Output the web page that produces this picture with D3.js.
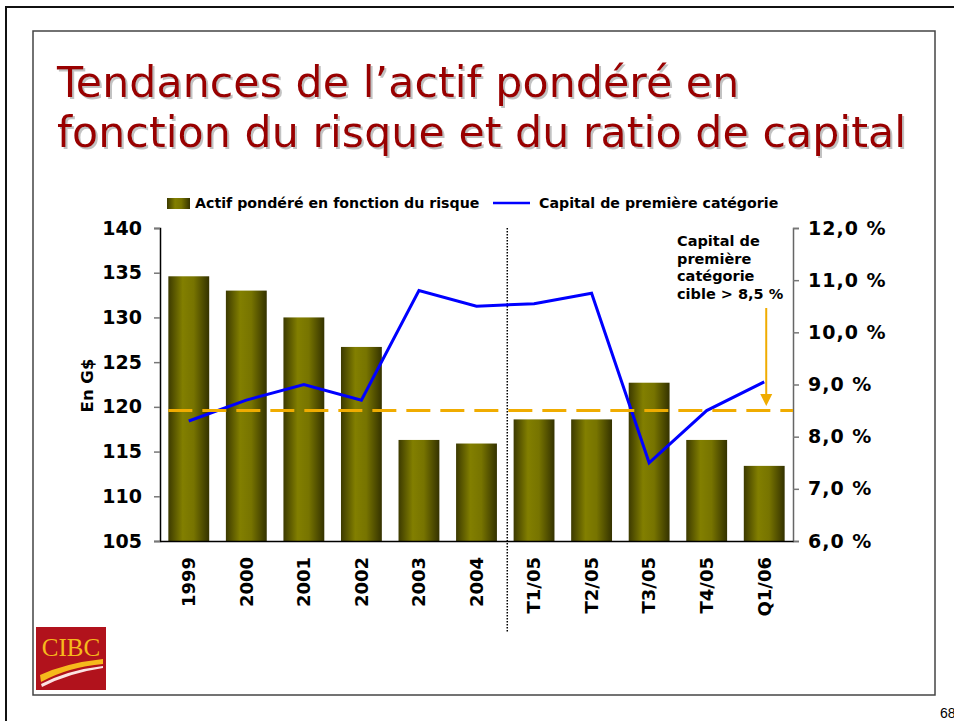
<!DOCTYPE html>
<html>
<head>
<meta charset="utf-8">
<script src="https://cdn.jsdelivr.net/npm/d3@7"></script>
<style>
  body { margin: 0; background: #fff; }
  svg { display: block; }
</style>
</head>
<body>
<div id="chart-area"></div>
<script>
// data
const categories = ["1999", "2000", "2001", "2002", "2003", "2004", "T1/05", "T2/05", "T3/05", "T4/05", "Q1/06"]
const rwaValues = [134.6, 133.0, 130.0, 126.7, 116.3, 115.9, 118.6, 118.6, 122.7, 116.3, 113.4]
const tier1Ratio = [8.3, 8.7, 9.0, 8.7, 10.8, 10.5, 10.55, 10.75, 7.5, 8.5, 9.05]
const leftTicks = [105, 110, 115, 120, 125, 130, 135, 140]
const rightTicks = [6, 7, 8, 9, 10, 11, 12]
const targetRatio = 8.5
const titleLines = ["Tendances de l\u2019actif pondéré en", "fonction du risque et du ratio de capital"]
const noteLines = ["Capital de", "première", "catégorie", "cible > 8,5 %"]

const W = 954, H = 721
const PLOT = { LEFT: 160, RIGHT: 793, TOP: 228, BOTTOM: 541 }
const FONT = "'DejaVu Sans', Verdana, sans-serif"

const svg = d3.select("#chart-area").append("svg")
  .attr("width", W)
  .attr("height", H)

const defs = svg.append("defs")
const grad = defs.append("linearGradient")
  .attr("id", "barGrad")
  .attr("x1", "0%").attr("x2", "100%").attr("y1", "0%").attr("y2", "0%")
grad.append("stop").attr("offset", "0%").attr("stop-color", "#3c3a00")
grad.append("stop").attr("offset", "35%").attr("stop-color", "#827f00")
grad.append("stop").attr("offset", "62%").attr("stop-color", "#777400")
grad.append("stop").attr("offset", "100%").attr("stop-color", "#343200")

const shadow = defs.append("filter").attr("id", "titleShadow")
  .attr("x", "-5%").attr("y", "-20%").attr("width", "110%").attr("height", "140%")
shadow.append("feDropShadow")
  .attr("dx", 2).attr("dy", 2).attr("stdDeviation", 0.6)
  .attr("flood-color", "#999").attr("flood-opacity", 0.6)

// page frame
svg.append("line").attr("x1", 5).attr("x2", W).attr("y1", 7).attr("y2", 7)
  .attr("stroke", "#111").attr("stroke-width", 2)
svg.append("line").attr("x1", 6).attr("x2", 6).attr("y1", 7).attr("y2", H)
  .attr("stroke", "#111").attr("stroke-width", 2)
svg.append("rect")
  .attr("x", 33).attr("y", 31).attr("width", 902).attr("height", 664)
  .attr("fill", "none").attr("stroke", "#444").attr("stroke-width", 1.5)
svg.append("text")
  .attr("x", 940).attr("y", 718)
  .attr("font-family", "'Liberation Sans', Arial, sans-serif").attr("font-size", "14px")
  .text("68")

// Title
const title = svg.append("g").attr("filter", "url(#titleShadow)")
titleLines.forEach((line, i) => {
  title.append("text")
    .attr("x", 57).attr("y", 97 + i * 50)
    .attr("font-family", FONT).attr("font-size", "42.8px")
    .attr("fill", "#990000")
    .text(line)
})

// Scales
const x = d3.scaleBand()
  .domain(categories)
  .range([PLOT.LEFT, PLOT.RIGHT])
  .paddingInner(0.29)
  .paddingOuter(0.145)
const yLeft = d3.scaleLinear()
  .domain([105, 140])
  .range([PLOT.BOTTOM, PLOT.TOP])
const yRight = d3.scaleLinear()
  .domain([6, 12])
  .range([PLOT.BOTTOM, PLOT.TOP])
const pctFormat = d => d3.format(".1f")(d).replace(".", ",") + " %"

// Bars
svg.append("g").selectAll("rect")
  .data(rwaValues)
  .enter().append("rect")
    .attr("x", (d, i) => x(categories[i]))
    .attr("y", d => yLeft(d))
    .attr("width", x.bandwidth())
    .attr("height", d => yLeft(105) - yLeft(d))
    .attr("fill", "url(#barGrad)")

// Axes
const leftAxis = svg.append("g")
  .attr("transform", `translate(${PLOT.LEFT}, 0)`)
  .call(d3.axisLeft(yLeft).tickValues(leftTicks).tickSize(6).tickPadding(12))
leftAxis.select(".domain").attr("stroke", "#000").attr("stroke-width", 1.5)
leftAxis.selectAll(".tick line").attr("stroke", "#777").attr("stroke-width", 1.5)
leftAxis.selectAll(".tick text")
  .attr("font-family", FONT).attr("font-size", "19px").attr("font-weight", "bold")
  .attr("fill", "#000")

const rightAxis = svg.append("g")
  .attr("transform", `translate(${PLOT.RIGHT}, 0)`)
  .call(d3.axisRight(yRight).tickValues(rightTicks).tickFormat(pctFormat).tickSize(6).tickPadding(9))
rightAxis.select(".domain").attr("stroke", "#666").attr("stroke-width", 1.5)
rightAxis.selectAll(".tick line").attr("stroke", "#777").attr("stroke-width", 1.5)
rightAxis.selectAll(".tick text")
  .attr("font-family", FONT).attr("font-size", "19px").attr("font-weight", "bold")
  .attr("letter-spacing", "1px")
  .attr("fill", "#000")

const bottomAxis = svg.append("g")
  .attr("transform", `translate(0, ${PLOT.BOTTOM})`)
  .call(d3.axisBottom(x).tickSize(0).tickPadding(0))
bottomAxis.select(".domain").attr("stroke", "#000").attr("stroke-width", 1.5)
bottomAxis.selectAll(".tick text")
  .attr("transform", "translate(0, 16) rotate(-90)")
  .attr("text-anchor", "end")
  .attr("dy", "0.35em")
  .attr("x", 0).attr("y", 0)
  .attr("font-family", FONT).attr("font-size", "18px").attr("font-weight", "bold")
  .attr("fill", "#000")

// Y axis title
svg.append("text")
  .attr("transform", `translate(93, ${(PLOT.TOP + PLOT.BOTTOM) / 2 + 1}) rotate(-90)`)
  .attr("text-anchor", "middle")
  .attr("font-family", FONT).attr("font-size", "16.5px").attr("font-weight", "bold")
  .text("En G$")

// Separator between annual and quarterly
const sepX = x(categories[6]) - x.step() * x.paddingInner() / 2 + 2
svg.append("line")
  .attr("x1", sepX).attr("x2", sepX)
  .attr("y1", PLOT.TOP).attr("y2", 632)
  .attr("stroke", "#000").attr("stroke-width", 1.5)
  .attr("stroke-dasharray", "1.5,1.5")

// Tier 1 line
const line = d3.line()
  .x((d, i) => x(categories[i]) + x.bandwidth() / 2)
  .y(d => yRight(d))
svg.append("path")
  .datum(tier1Ratio)
  .attr("d", line)
  .attr("fill", "none")
  .attr("stroke", "#0000ff")
  .attr("stroke-width", 3)

// Target line
svg.append("line")
  .attr("x1", x(categories[0])).attr("x2", PLOT.RIGHT)
  .attr("y1", yRight(targetRatio)).attr("y2", yRight(targetRatio))
  .attr("stroke", "#f0ac00").attr("stroke-width", 3)
  .attr("stroke-dasharray", "24,10")

// Annotation
const note = svg.append("g")
noteLines.forEach((l, i) => {
  note.append("text")
    .attr("x", 677).attr("y", 246 + i * 17.5)
    .attr("font-family", FONT).attr("font-size", "14.5px").attr("font-weight", "bold")
    .text(l)
})
const arrowX = x(categories[10]) + x.bandwidth() / 2 + 2
svg.append("line")
  .attr("x1", arrowX).attr("x2", arrowX)
  .attr("y1", 308).attr("y2", 396)
  .attr("stroke", "#f0ac00").attr("stroke-width", 2)
svg.append("path")
  .attr("d", `M${arrowX - 6},394 L${arrowX + 6},394 L${arrowX},406 Z`)
  .attr("fill", "#f0ac00")

// Legend
const legend = svg.append("g")
legend.append("rect")
  .attr("x", 167).attr("y", 198).attr("width", 23).attr("height", 11)
  .attr("fill", "url(#barGrad)")
legend.append("text")
  .attr("x", 195).attr("y", 208)
  .attr("font-family", FONT).attr("font-size", "14.2px").attr("font-weight", "bold")
  .text("Actif pondéré en fonction du risque")
legend.append("line")
  .attr("x1", 493).attr("x2", 530).attr("y1", 203).attr("y2", 203)
  .attr("stroke", "#0000ff").attr("stroke-width", 2.5)
legend.append("text")
  .attr("x", 539).attr("y", 208)
  .attr("font-family", FONT).attr("font-size", "14.2px").attr("font-weight", "bold")
  .text("Capital de première catégorie")

// Logo
const logo = svg.append("g").attr("transform", "translate(36, 627)")
logo.append("rect").attr("width", 70).attr("height", 63).attr("fill", "#b1121c")
logo.append("text")
  .attr("x", 35).attr("y", 29)
  .attr("text-anchor", "middle")
  .attr("font-family", "'Liberation Serif', 'DejaVu Serif', serif")
  .attr("font-size", "25px")
  .attr("fill", "#f6b91c")
  .text("CIBC")
logo.append("path")
  .attr("d", "M4,48 Q30,36 67,32 L67,37 Q32,40 5,55 Z")
  .attr("fill", "#f6b91c")
logo.append("path")
  .attr("d", "M5,57 Q32,43 67,39 L67,41 Q33,46 6,60 Z")
  .attr("fill", "#fbe3e3")
</script>
</body>
</html>
